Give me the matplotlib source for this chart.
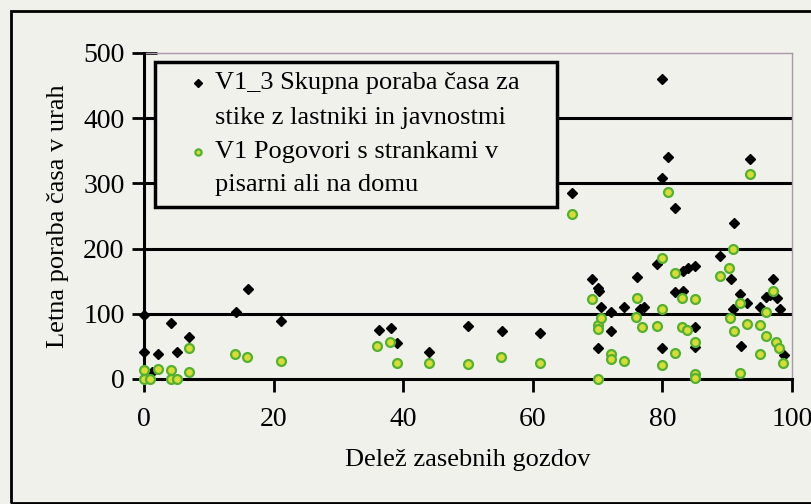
import matplotlib.pyplot as plt
from matplotlib.patches import Rectangle

# V1_3 Skupna poraba časa za stike z lastniki in javnostmi
v13_x = [0, 0, 1.2, 2.1, 4.1, 5.1, 7.0, 14.2, 16.1, 21.1,
         36.2, 38.1, 39.1, 44.0, 50.0, 55.2, 61.1, 66.1,
         69.2, 70.0, 70.2, 70.6, 70.1, 72.0, 72.0, 74.0, 76.1, 76.5, 77.1,
         79.1, 80.0, 80.0, 80.9, 82.0, 80.0, 81.9, 83.2, 83.2, 84.0, 85.0, 85.0, 85.1,
         88.9, 90.6, 91.0, 91.9, 93.1, 90.9, 92.1, 93.5, 95.0, 96.0, 96.6, 97.1, 97.7, 98.1, 98.7]
v13_y = [98, 41, 11, 38, 86, 42, 65, 102, 138, 89,
         75, 78, 55, 41, 82, 74, 70, 286,
         154, 140, 135, 110, 47, 102, 74, 111, 157, 107, 110,
         176, 460, 308, 340, 263, 48, 134, 135, 165, 170, 173, 80, 49,
         189, 153, 239, 130, 116, 107, 50, 337, 111, 126, 129, 154, 124, 107, 37]

# V1 Pogovori s strankami v pisarni ali na domu
v1_x = [0, 0, 1.0, 2.1, 4.1, 4.1, 5.1, 7.0, 7.0, 14.1, 15.9, 21.1,
        36.0, 38.0, 39.0, 44.0, 50.0, 55.1, 61.1, 66.0,
        69.1, 70.0, 70.0, 70.6, 70.1, 72.0, 72.0, 74.0, 76.1, 76.0, 76.8,
        79.1, 80.0, 80.0, 80.0, 80.8, 81.9, 81.9, 83.1, 83.0, 83.8, 85.0, 85.0, 85.0, 85.0,
        88.9, 90.3, 90.9, 90.5, 91.0, 91.9, 92.0, 93.0, 93.5, 95.0, 95.0, 96.0, 96.0,
        97.1, 97.5, 98.0, 98.6]
v1_y = [14, 0, 0, 16, 14, 0, 0, 47, 11, 39, 33, 27,
        50, 57, 24, 24, 23, 33, 24, 253,
        122, 83, 76, 93, 0, 38, 30, 28, 125, 95, 79,
        81, 185, 108, 21, 287, 162, 40, 125, 79, 75, 122, 56, 8, 1,
        158, 171, 200, 93, 73, 116, 9, 85, 315, 83, 38, 103, 66,
        135, 57, 48, 24]

labels = [["V1_3 Skupna poraba časa za", "stike z lastniki in javnostmi"],
          ["V1 Pogovori s strankami v", "pisarni ali na domu"]]
x_ticks = [0, 20, 40, 60, 80, 100]
y_ticks = [0, 100, 200, 300, 400, 500]

bg = '#f1f1ec'
fs = 19
black_style = dict(marker='D', color='black', markersize=5.5, linestyle='none')
green_style = dict(marker='o', markerfacecolor='#d6dd3a', markeredgecolor='#55b030',
                   markeredgewidth=1.6, markersize=6.4, linestyle='none')
plt.rcParams['font.family'] = ['Liberation Serif', 'DejaVu Serif']

fig = plt.figure(figsize=(8.12, 5.04), dpi=100, facecolor=bg)
ax = fig.add_axes([144 / 812, 125 / 504, 648 / 812, 326 / 504])
ax.set_facecolor(bg)

# outer chart border
fig.patches.append(Rectangle((11 / 812, 1 / 504), 1.2, 492 / 504, transform=fig.transFigure,
                             fill=False, edgecolor='black', linewidth=2))

for yv in y_ticks[1:-1]:
    ax.axhline(yv, color='black', linewidth=2.2, zorder=1)

ax.plot(v13_x, v13_y, zorder=6, clip_on=False, **black_style)
ax.plot(v1_x, v1_y, zorder=7, clip_on=False, **green_style)

ax.set_xlim(0, 100)
ax.set_ylim(0, 500)
ax.set_xticks(x_ticks)
ax.set_yticks(y_ticks)
ax.tick_params(axis='y', direction='inout', length=18, width=2, labelsize=20, pad=5)
ax.tick_params(axis='x', direction='out', length=9, width=2, labelsize=20, pad=11)

for s in ['left', 'bottom']:
    ax.spines[s].set_linewidth(2.2)
    ax.spines[s].set_color('black')
for s in ['top', 'right']:
    ax.spines[s].set_linewidth(1)
    ax.spines[s].set_color('#a898a8')
ax.spines['left'].set_zorder(5)

ax.set_xlabel('Delež zasebnih gozdov', fontsize=fs)
ax.xaxis.set_label_coords(0.5, (379 - 460) / 326)
ax.xaxis.label.set_va('center')
ax.set_ylabel('Letna poraba časa v urah', fontsize=fs, labelpad=10)

# legend box, handles and labels placed by hand (marker sits on first text line)
ax.add_patch(Rectangle((0.017, 0.528), 0.620, 0.445, transform=ax.transAxes,
                       facecolor=bg, edgecolor='black', linewidth=2.5, zorder=8,
                       clip_on=False))
line_y = [[0.908, 0.801], [0.696, 0.595]]
for style, lab, ys in zip([black_style, green_style], labels, line_y):
    st = dict(style)
    st['markersize'] = 4.5
    ax.plot([0.0833], [ys[0]], transform=ax.transAxes, zorder=9, clip_on=False, **st)
    for txt, yy in zip(lab, ys):
        ax.text(0.1096, yy, txt, transform=ax.transAxes, fontsize=fs,
                ha='left', va='center', zorder=9)

fig.savefig('out.png', dpi=100, facecolor=bg)
